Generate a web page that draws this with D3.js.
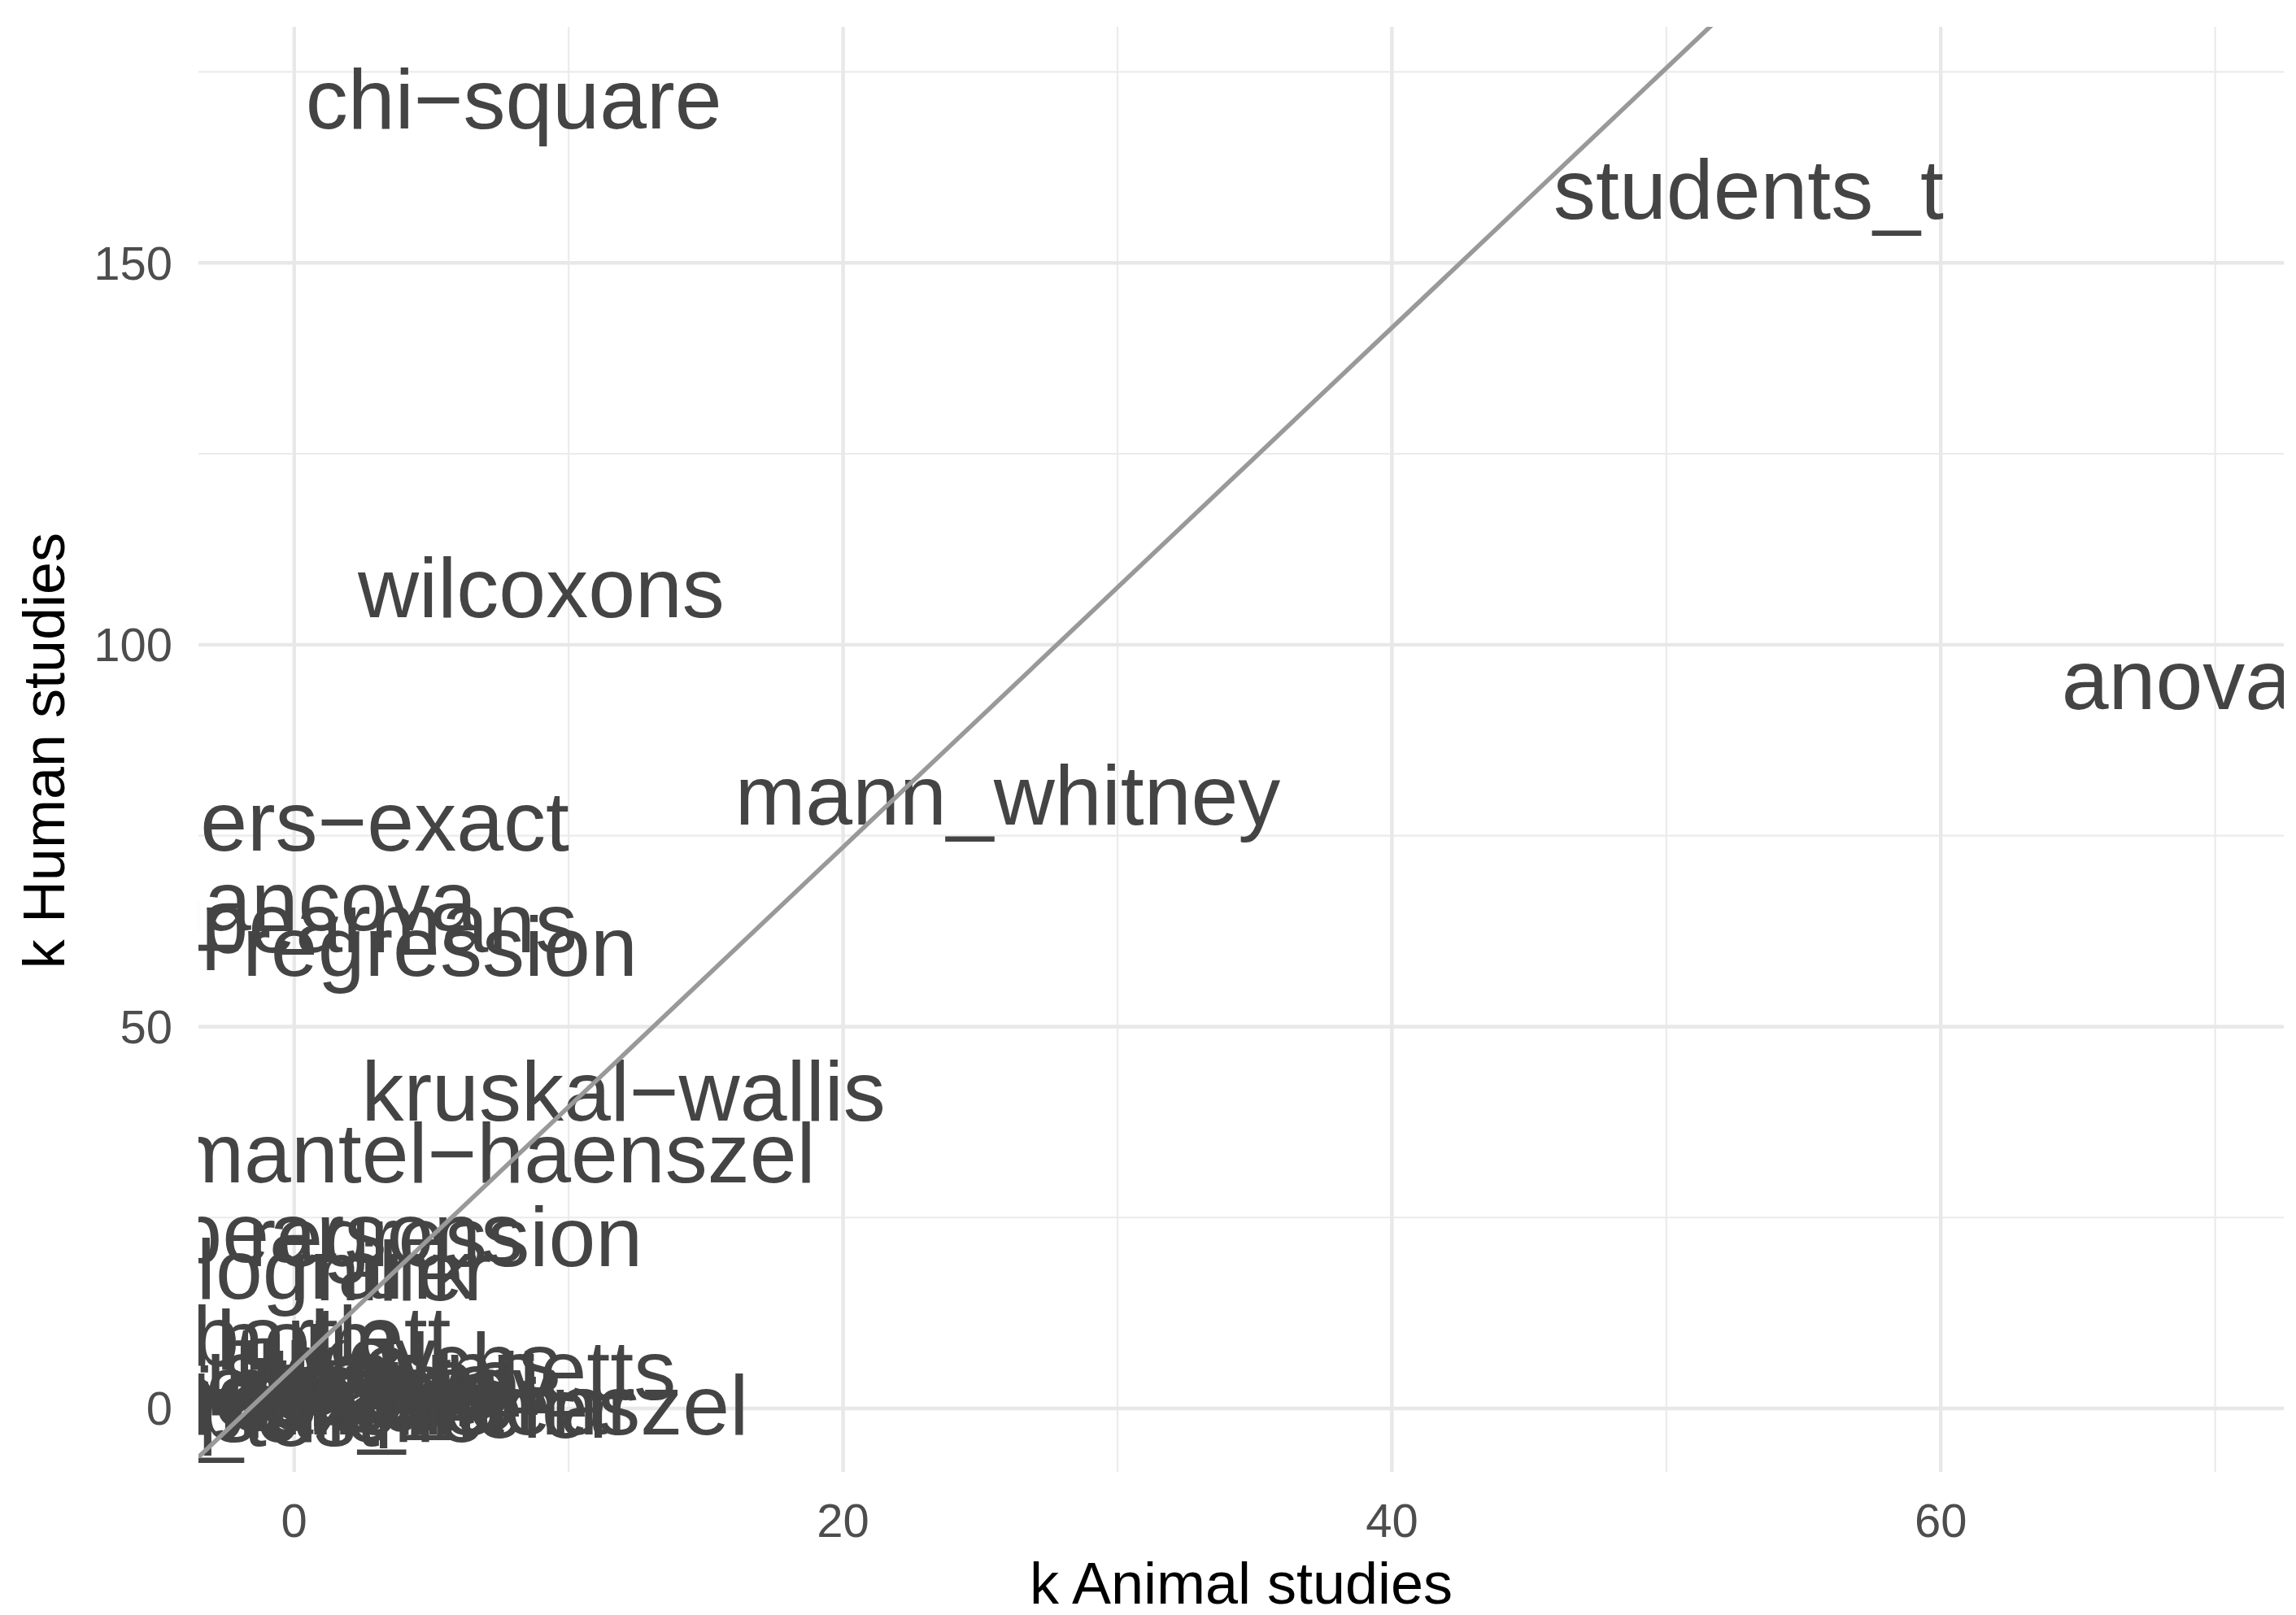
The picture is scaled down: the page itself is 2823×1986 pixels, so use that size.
<!DOCTYPE html>
<html>
<head>
<meta charset="utf-8">
<script src="https://cdn.jsdelivr.net/npm/d3@7"></script>
<style>
  body { margin: 0; background: #fff; }
  text { font-family: "Liberation Sans", Arial, sans-serif; }
</style>
</head>
<body>
<svg id="chart" width="2823" height="1986"></svg>
<script>
  var tests = ['chi−square', 'students_t', 'wilcoxons', 'anova', 'mann_whitney', 'fishers−exact',
    'mancova', 'spearmans', 'logistic−regression', 'kruskal−wallis', 'mantel−haenszel',
    'pearsons', 'regression', 'logrank', 'miller', 'bartlett', 'holm', 'dunnetts', 'tukey',
    'bonferroni', 'cochran−haenszel', 'paired_t', 'z_test', 'shapiro', 'bayes', 'welchs',
    'kaplan_meier', 'levene', 'friedman', 'kendall', 'scheffe', 'mcnemar', 'sidak', 'cox', 'kolmogorov'];
  var animal = [8, 53, 9, 68.6, 26, 0.9, 0.4, 2.7, -0.3, 12, 7.3, 2, 5.5, 1.5, 3.5, 1, 0.5, 8, 1.5,
    2, 4, 1, -1, 3, 4, 5, 2.5, 3, 0.5, 4, 2, 6, 1, 0, 1.5];
  var human = [171.5, 159.7, 107.5, 95.4, 80.3, 76.9, 66.5, 63.6, 60.5, 41.6, 33.5, 23, 22.5, 18.3,
    18, 9.5, 9, 5, 7, 3, 0.5, 2, -1, 1, 4, 6, 0, 2.5, 1.5, 3.5, -0.5, 0.5, 5, 1, 3];
  var xTicks = [0, 20, 40, 60], xMinor = [10, 30, 50, 70];
  var yTicks = [0, 50, 100, 150], yMinor = [25, 75, 125, 175];
  var fitIntercept = 5.5, fitSlope = 3.4;

  var L = 244, R = 2808, T = 33, B = 1810;
  var x = d3.scaleLinear().domain([-3.49, 72.5]).range([L, R]);
  var y = d3.scaleLinear().domain([-8.3, 180.9]).range([B, T]);
  var svg = d3.select('#chart');

  svg.append('clipPath').attr('id', 'panel')
    .append('rect').attr('x', L).attr('y', T).attr('width', R - L).attr('height', B - T);

  var grid = svg.append('g');
  grid.selectAll('.xm').data(xMinor).enter().append('line')
    .attr('x1', x).attr('x2', x).attr('y1', T).attr('y2', B).attr('stroke', '#ebebeb').attr('stroke-width', 2.2);
  grid.selectAll('.ym').data(yMinor).enter().append('line')
    .attr('y1', y).attr('y2', y).attr('x1', L).attr('x2', R).attr('stroke', '#ebebeb').attr('stroke-width', 2.2);
  grid.selectAll('.xM').data(xTicks).enter().append('line')
    .attr('x1', x).attr('x2', x).attr('y1', T).attr('y2', B).attr('stroke', '#e8e8e8').attr('stroke-width', 4.4);
  grid.selectAll('.yM').data(yTicks).enter().append('line')
    .attr('y1', y).attr('y2', y).attr('x1', L).attr('x2', R).attr('stroke', '#e8e8e8').attr('stroke-width', 4.4);

  var plot = svg.append('g').attr('clip-path', 'url(#panel)');
  plot.selectAll('.lab').data(tests).enter().append('text')
    .attr('x', function (d, i) { return x(animal[i]); })
    .attr('y', function (d, i) { return y(human[i]); })
    .attr('dy', '0.35em')
    .attr('text-anchor', 'middle')
    .attr('font-size', 104)
    .attr('fill', '#444444')
    .text(function (d) { return d; });

  var x0 = -3.49, x1 = 72.5;
  plot.append('line')
    .attr('x1', x(x0)).attr('y1', y(fitIntercept + fitSlope * x0))
    .attr('x2', x(x1)).attr('y2', y(fitIntercept + fitSlope * x1))
    .attr('stroke', '#999999').attr('stroke-width', 5.5);

  svg.selectAll('.xt').data(xTicks).enter().append('text')
    .attr('x', x).attr('y', 1870).attr('dy', '0.35em').attr('text-anchor', 'middle')
    .attr('font-size', 58).attr('fill', '#4d4d4d').text(function (d) { return d; });
  svg.selectAll('.yt').data(yTicks).enter().append('text')
    .attr('x', 212).attr('y', y).attr('dy', '0.35em').attr('text-anchor', 'end')
    .attr('font-size', 58).attr('fill', '#4d4d4d').text(function (d) { return d; });

  svg.append('text').attr('x', 1526).attr('y', 1947).attr('dy', '0.35em').attr('text-anchor', 'middle')
    .attr('font-size', 72).attr('fill', '#000').text('k Animal studies');
  svg.append('text').attr('transform', 'translate(54,923) rotate(-90)').attr('dy', '0.35em')
    .attr('text-anchor', 'middle').attr('font-size', 72).attr('fill', '#000').text('k Human studies');
</script>
</body>
</html>
